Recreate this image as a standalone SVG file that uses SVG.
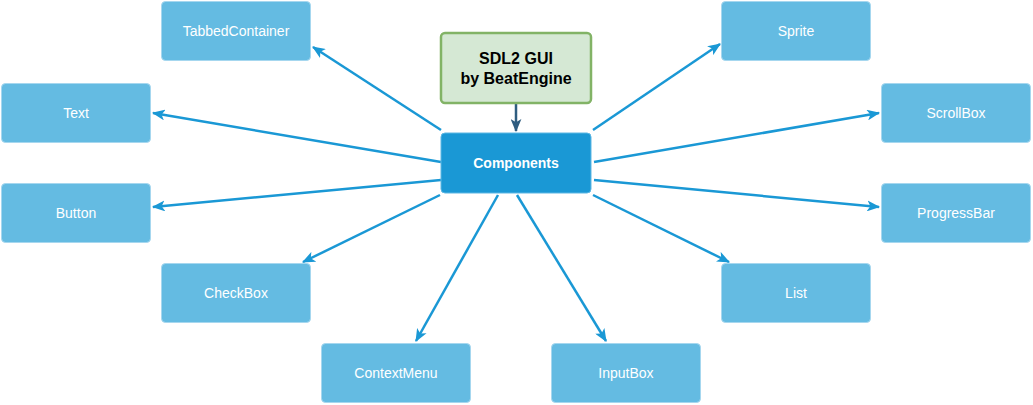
<svg xmlns="http://www.w3.org/2000/svg" width="1033" height="405" viewBox="0 0 1033 405">
<style>
.n rect{fill:#64bbe2;stroke:#a6d7ef;stroke-width:1}
.n text{fill:#ffffff;font-family:"Liberation Sans",Arial,sans-serif;font-size:14px;text-anchor:middle}
.c line{stroke:#1a98d5;stroke-width:2.5;marker-end:url(#a)}
</style>
<defs>
<marker id="a" viewBox="0 0 12 10" refX="11" refY="5" markerWidth="13" markerHeight="11" markerUnits="userSpaceOnUse" orient="auto">
<path d="M0,0 L12,5 L0,10 L3,5 Z" fill="#1a98d5"/>
</marker>
<marker id="b" viewBox="0 0 12 10" refX="11" refY="5" markerWidth="13" markerHeight="11" markerUnits="userSpaceOnUse" orient="auto">
<path d="M0,0 L12,5 L0,10 L3,5 Z" fill="#2f5d80"/>
</marker>
</defs>
<rect width="1033" height="405" fill="#ffffff"/>
<g id="connectors" class="c">
<line x1="441" y1="130" x2="313" y2="47"/>
<line x1="441" y1="162" x2="153" y2="113"/>
<line x1="441" y1="180" x2="153" y2="207"/>
<line x1="440" y1="195" x2="303" y2="262"/>
<line x1="498" y1="195" x2="416" y2="341"/>
<line x1="517" y1="195" x2="606" y2="341"/>
<line x1="593" y1="195" x2="729" y2="262"/>
<line x1="594" y1="180" x2="879" y2="207"/>
<line x1="594" y1="162" x2="879" y2="113"/>
<line x1="593" y1="130" x2="720" y2="44"/>
<line x1="516" y1="104" x2="516" y2="131" style="stroke:#2f5d80;marker-end:url(#b)"/>
</g>
<g id="sdl2gui">
<rect x="441" y="33" width="150" height="70" rx="4" fill="#d5e8d4" stroke="#82b366" stroke-width="2.5"/>
<text x="516" y="64" font-family="'Liberation Sans',Arial,sans-serif" font-size="16" font-weight="bold" text-anchor="middle" fill="#000">SDL2 GUI</text>
<text x="516" y="84" font-family="'Liberation Sans',Arial,sans-serif" font-size="16" font-weight="bold" text-anchor="middle" fill="#000">by BeatEngine</text>
</g>
<g id="components">
<rect x="441" y="133" width="150" height="60" rx="4" fill="#1a98d5" stroke="#5cb7e4" stroke-width="1"/>
<text x="516" y="168" font-family="'Liberation Sans',Arial,sans-serif" font-size="14" font-weight="bold" text-anchor="middle" fill="#ffffff">Components</text>
</g>
<g id="tabbedcontainer" class="n"><rect x="161.5" y="1.5" width="149" height="59" rx="4"/><text x="236" y="36">TabbedContainer</text></g>
<g id="text" class="n"><rect x="1.5" y="83.5" width="149" height="59" rx="4"/><text x="76" y="118">Text</text></g>
<g id="button" class="n"><rect x="1.5" y="183.5" width="149" height="59" rx="4"/><text x="76" y="218">Button</text></g>
<g id="checkbox" class="n"><rect x="161.5" y="263.5" width="149" height="59" rx="4"/><text x="236" y="298">CheckBox</text></g>
<g id="contextmenu" class="n"><rect x="321.5" y="343.5" width="149" height="59" rx="4"/><text x="396" y="378">ContextMenu</text></g>
<g id="inputbox" class="n"><rect x="551.5" y="343.5" width="149" height="59" rx="4"/><text x="626" y="378">InputBox</text></g>
<g id="list" class="n"><rect x="721.5" y="263.5" width="149" height="59" rx="4"/><text x="796" y="298">List</text></g>
<g id="progressbar" class="n"><rect x="881.5" y="183.5" width="149" height="59" rx="4"/><text x="956" y="218">ProgressBar</text></g>
<g id="scrollbox" class="n"><rect x="881.5" y="83.5" width="149" height="59" rx="4"/><text x="956" y="118">ScrollBox</text></g>
<g id="sprite" class="n"><rect x="721.5" y="1.5" width="149" height="59" rx="4"/><text x="796" y="36">Sprite</text></g>
</svg>
